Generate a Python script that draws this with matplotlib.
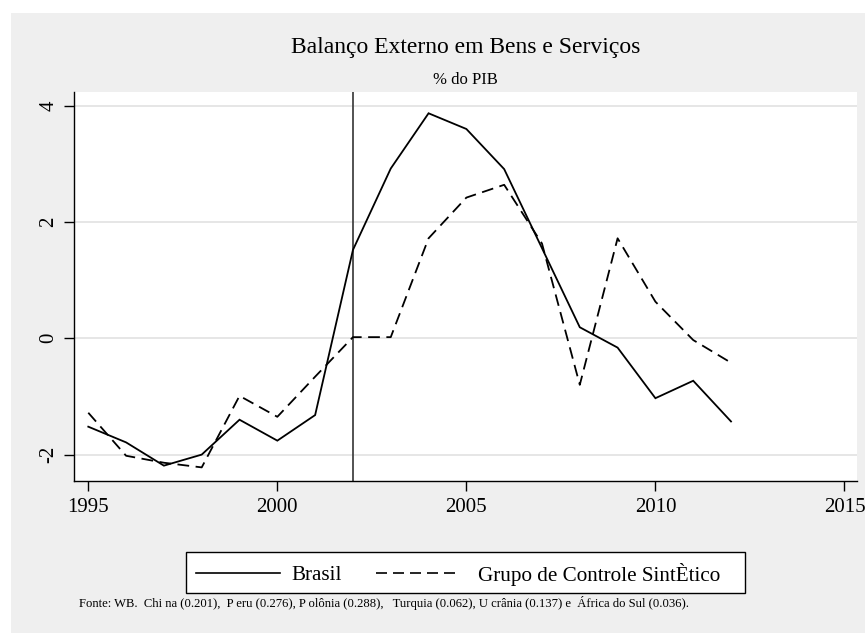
import matplotlib
matplotlib.use("Agg")
import matplotlib.pyplot as plt
from matplotlib.patches import Rectangle
from matplotlib.lines import Line2D

years = list(range(1995, 2013))
brasil = [-1.52, -1.79, -2.19, -2.00, -1.40, -1.76, -1.32, 1.52, 2.92, 3.87,
          3.60, 2.91, 1.55, 0.19, -0.16, -1.03, -0.73, -1.43]
sintetico = [-1.28, -2.02, -2.14, -2.22, -0.99, -1.35, -0.66, 0.02, 0.02, 1.72,
             2.42, 2.64, 1.63, -0.80, 1.72, 0.63, -0.03, -0.42]
xticks = [1995, 2000, 2005, 2010, 2015]
yticks = [-2, 0, 2, 4]
treat_year = 2002

title = "Balanço Externo em Bens e Serviços"
subtitle = "% do PIB"
legend_labels = ["Brasil", "Grupo de Controle SintÈtico"]
note = ("Fonte: WB.  Chi na (0.201),  P eru (0.276), P olônia (0.288),   Turquia (0.062), "
        "U crânia (0.137) e  África do Sul (0.036).")

plt.rcParams['font.family'] = ['Liberation Serif', 'DejaVu Serif']

W, H = 865, 633
fig = plt.figure(figsize=(W / 100, H / 100), dpi=100)
fig.patch.set_facecolor('white')
bg = '#efefef'
fig.patches.append(Rectangle((11 / W, 0), 1 - 11 / W, 1 - 13 / H, transform=fig.transFigure,
                             facecolor=bg, edgecolor='none', zorder=-5))

def fx(px):
    return px / W

def fy(py):
    return 1 - py / H

L, R, T, B = 74.3, 857.3, 92, 481
ax = fig.add_axes([fx(L), fy(B), (R - L) / W, (B - T) / H], zorder=1)
ax.set_facecolor('white')
ax.set_xlim(1994.63, 2015.34)
ax.set_ylim(-2.454, 4.236)

ax.set_yticks(yticks)
ax.set_yticklabels([str(v) for v in yticks], rotation=90, va='center', fontsize=15)
ax.set_xticks(xticks)
ax.set_xticklabels([str(v) for v in xticks], fontsize=15)
ax.tick_params(axis='x', direction='out', length=7, width=1, color='black', pad=5)
ax.tick_params(axis='y', direction='out', length=7, width=1, color='black', pad=4.5)
ax.grid(axis='y', color='#e4e4e4', linewidth=1.3)
ax.set_axisbelow(True)
for s in ['top', 'right']:
    ax.spines[s].set_visible(False)
for s in ['left', 'bottom']:
    ax.spines[s].set_linewidth(1.0)
    ax.spines[s].set_color('black')

ax.axvline(treat_year, color='#444444', linewidth=1.3, zorder=2)
ax.plot(years, brasil, color='black', linewidth=1.3, solid_joinstyle='miter', zorder=3)
ax.plot(years, sintetico, color='black', linewidth=1.3, dashes=(6.5, 3.6), zorder=3)

fig.text(fx(465.5), fy(47.5), title, ha='center', va='center', fontsize=17)
fig.text(fx(465.5), fy(80), subtitle, ha='center', va='center', fontsize=12)

# legend drawn by hand (Stata-style box)
fig.patches.append(Rectangle((fx(186), fy(593.3)), (745 - 186) / W, (593.3 - 552.3) / H,
                             transform=fig.transFigure, facecolor='white',
                             edgecolor='black', linewidth=1.0, zorder=2))
ly = fy(572.7)
fig.lines.append(Line2D([fx(196), fx(280)], [ly, ly], transform=fig.transFigure,
                        color='black', linewidth=1.2, zorder=3))
fig.lines.append(Line2D([fx(376), fx(459)], [ly, ly], transform=fig.transFigure,
                        color='black', linewidth=1.2, dashes=(6.6, 3.6), zorder=3))
fig.text(fx(291.5), fy(580.5), legend_labels[0], ha='left', va='baseline', fontsize=15.2, zorder=4)
fig.text(fx(478), fy(580.5), legend_labels[1], ha='left', va='baseline', fontsize=15.2, zorder=4)

fig.text(fx(78.7), fy(603), note, ha='left', va='center', fontsize=9.1)

fig.savefig('out.png', dpi=100, facecolor=fig.get_facecolor())
